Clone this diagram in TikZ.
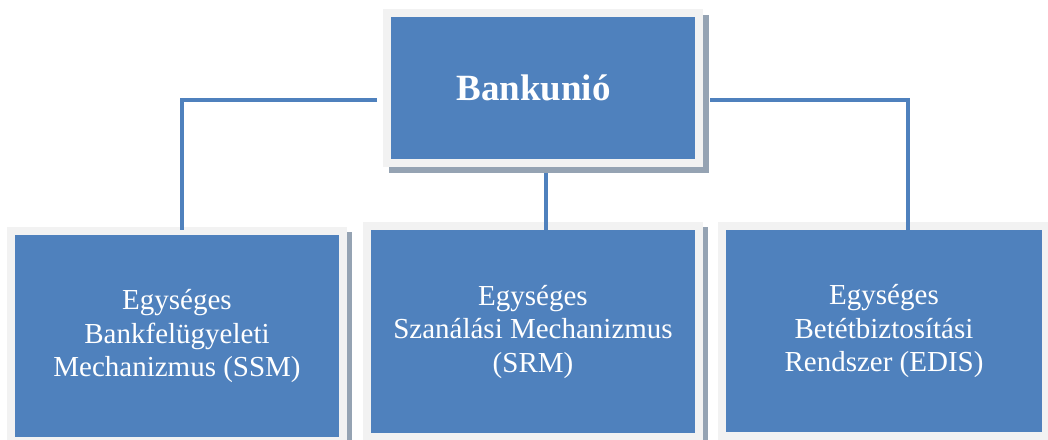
\documentclass[tikz,border=0pt]{standalone}
\usepackage{fontspec}
\setmainfont{Liberation Serif}
\usetikzlibrary{backgrounds}
\definecolor{boxblue}{HTML}{4F81BD}
\definecolor{framegray}{HTML}{F2F2F2}
\definecolor{shadowgray}{HTML}{95A3B3}
\tikzset{
  box/.style={rectangle, fill=boxblue, draw=framegray, line width=8pt,
    outer sep=4pt, inner sep=0pt, text=white, align=center},
  conn/.style={draw=boxblue, line width=4pt},
}
\begin{document}
\begin{tikzpicture}[x=1pt,y=-1pt]
\useasboundingbox (0,0) rectangle (1048,439);
% boxes
\node[box, minimum width=312pt, minimum height=150pt,
      font=\fontsize{37}{42}\selectfont\bfseries] (top) at (543,88)
      {\hspace*{-19pt}Bankunió};
\node[box, minimum width=332pt, minimum height=210pt,
      font=\fontsize{29}{33.5}\selectfont] (ssm) at (177,336)
      {Egységes\\Bankfelügyeleti\\Mechanizmus (SSM)};
\node[box, minimum width=332pt, minimum height=211pt,
      font=\fontsize{29}{33.5}\selectfont] (srm) at (533,331.5)
      {Egységes\\Szanálási Mechanizmus\\(SRM)};
\node[box, minimum width=324pt, minimum height=210pt,
      font=\fontsize{29}{33.5}\selectfont] (edis) at (884,331)
      {Egységes\\Betétbiztosítási\\Rendszer (EDIS)};
% connector end points
\coordinate (lstart) at (377,100);
\coordinate (lend) at (182,230);
\coordinate (rstart) at (710,100);
\coordinate (rend) at (908,230);
\coordinate (mstart) at (546,173);
\coordinate (mend) at (546,230);
\draw[conn] (lstart) -| (lend);
\draw[conn] (rstart) -| (rend);
\draw[conn] (mstart) -- (mend);
\begin{scope}[on background layer]
  \fill[white] (0,0) rectangle (1048,439);
  \foreach \n/\dx in {top/6,ssm/5,srm/5,edis/5}{
    \fill[shadowgray] ([shift={(\dx,\dx)}]\n.south west) rectangle ([shift={(\dx,\dx)}]\n.north east);
  }
\end{scope}
\end{tikzpicture}
\end{document}
